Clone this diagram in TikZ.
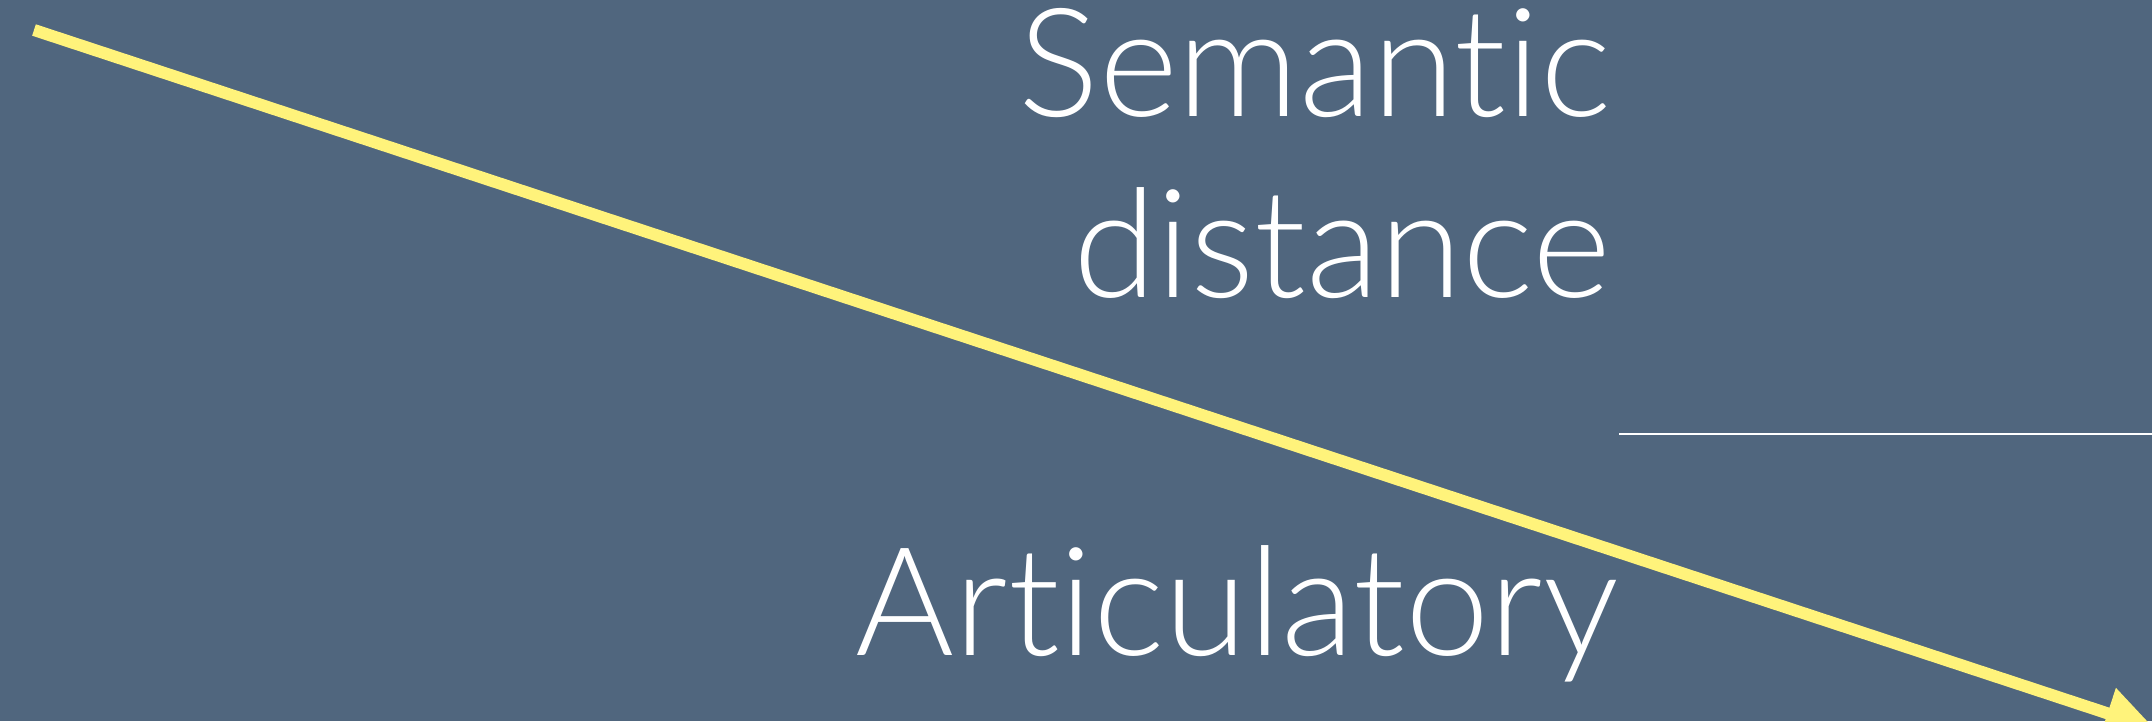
\documentclass[tikz,border=0pt]{standalone}
\usepackage{fontspec}
\setmainfont{Lato Light}[Ligatures=NoCommon]
\usetikzlibrary{arrows.meta}
\definecolor{slate}{RGB}{80,102,126}
\definecolor{pale yellow}{RGB}{255,243,123}

\begin{document}
\begin{tikzpicture}[
  label text/.style={anchor=base east, inner sep=0pt, text=white,
    font=\fontsize{43}{52}\selectfont},
  trend/.style={draw=pale yellow, line width=0.12cm,
    -{Triangle[width=0.5cm, length=0.5cm]}, fill=pale yellow},
  divider/.style={draw=white, line width=0.02cm}
]
\fill[slate] (0,0) rectangle (21.52,7.21);
\useasboundingbox (0,0) rectangle (21.52,7.21);
\clip (0,0) rectangle (21.52,7.21);
% labels
\node [label text] (semantic) at (16.12,6.04) {Semantic};
\node [label text] (distance) at (16.12,4.23) {distance};
\node [label text] (articulatory) at (16.19,0.66) {Articulatory};
% rule on the right
\coordinate (rule start) at (16.19,2.87);
\coordinate (rule end) at (21.52,2.87);
\draw [divider] (rule start) -- (rule end);
% long arrow
\coordinate (trend start) at (0.34,6.91);
\coordinate (trend end) at (21.55,-0.08);
\draw [trend] (trend start) -- (trend end);
\end{tikzpicture}
\end{document}
